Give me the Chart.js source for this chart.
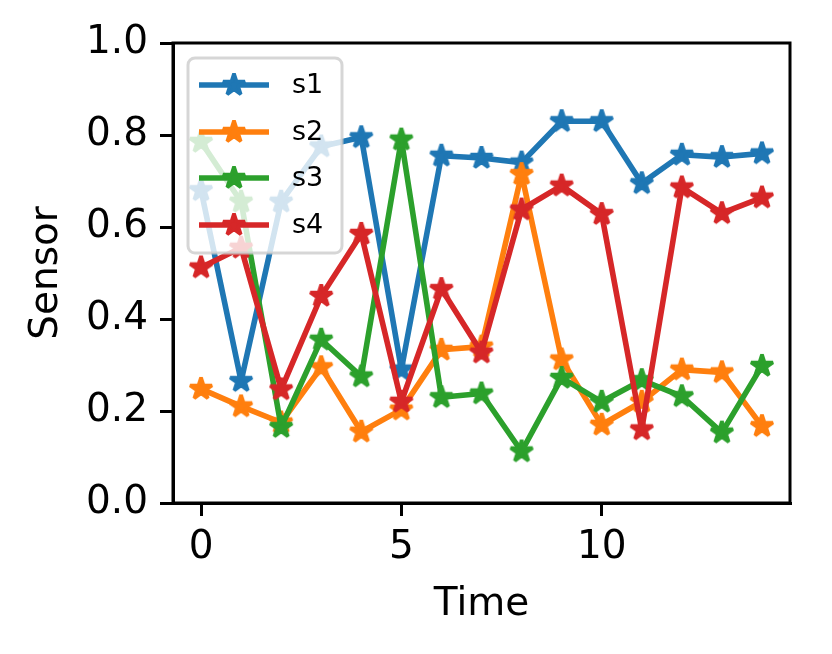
<!DOCTYPE html>
<html>
<head>
<meta charset="utf-8">
<script src="https://cdn.jsdelivr.net/npm/chart.js@4.4.1/dist/chart.umd.min.js"></script>
<style>
  html, body { margin: 0; padding: 0; background: #fff; }
  #chart { display: block; }
</style>
</head>
<body>
<canvas id="chart" width="832" height="654"></canvas>
<script>
// data
let time = [0, 1, 2, 3, 4, 5, 6, 7, 8, 9, 10, 11, 12, 13, 14];
let s1 = [0.68, 0.265, 0.655, 0.775, 0.795, 0.29, 0.755, 0.75, 0.74, 0.83, 0.83, 0.695, 0.757, 0.752, 0.76];
let s2 = [0.248, 0.21, 0.175, 0.295, 0.155, 0.203, 0.333, 0.34, 0.715, 0.312, 0.17, 0.22, 0.29, 0.284, 0.167];
let s3 = [0.785, 0.655, 0.165, 0.355, 0.275, 0.79, 0.23, 0.238, 0.112, 0.272, 0.22, 0.267, 0.232, 0.153, 0.298];
let s4 = [0.512, 0.555, 0.247, 0.45, 0.585, 0.22, 0.465, 0.327, 0.638, 0.69, 0.628, 0.16, 0.686, 0.63, 0.664];
let seriesNames = ["s1", "s2", "s3", "s4"];
let xTicks = [0, 5, 10];
let yTicks = [0, 0.2, 0.4, 0.6, 0.8, 1.0];

let colors = ["#1f77b4", "#ff7f0e", "#2ca02c", "#d62728"];
let FONT = "'DejaVu Sans', sans-serif";

function makeStar(color) {
  let c = document.createElement("canvas");
  c.width = 34;
  c.height = 34;
  let g = c.getContext("2d");
  let R = 11.5, r = R * 0.381966;
  g.beginPath();
  for (let i = 0; i < 10; i++) {
    let a = -Math.PI / 2 + i * Math.PI / 5;
    let rad = i % 2 === 0 ? R : r;
    let px = 17 + rad * Math.cos(a);
    let py = 17 + rad * Math.sin(a);
    if (i === 0) g.moveTo(px, py); else g.lineTo(px, py);
  }
  g.closePath();
  g.fillStyle = color;
  g.fill();
  g.lineWidth = 3.6;
  g.lineJoin = "bevel";
  g.strokeStyle = color;
  g.stroke();
  return c;
}

let stars = colors.map(makeStar);

function pts(vals) {
  let out = [];
  for (let i = 0; i < time.length; i++) out.push({ x: time[i], y: vals[i] });
  return out;
}

let allSeries = [s1, s2, s3, s4];
let datasets = [];
for (let i = 0; i < allSeries.length; i++) {
  datasets.push({
    label: seriesNames[i],
    data: pts(allSeries[i]),
    borderColor: colors[i],
    backgroundColor: colors[i],
    borderWidth: 5.6,
    pointStyle: stars[i],
    pointRadius: 12,
    tension: 0,
    fill: false,
    order: allSeries.length - i,
    borderJoinStyle: "round",
    borderCapStyle: "butt"
  });
}

// matplotlib style legend inside the axes + full frame
let mplLegend = {
  id: "mplLegend",
  afterDatasetsDraw(chart) {
    let ctx = chart.ctx;
    let x0 = 188, y0 = 58, w = 154, h = 195, rr = 7;
    ctx.save();
    ctx.beginPath();
    ctx.moveTo(x0 + rr, y0);
    ctx.arcTo(x0 + w, y0, x0 + w, y0 + h, rr);
    ctx.arcTo(x0 + w, y0 + h, x0, y0 + h, rr);
    ctx.arcTo(x0, y0 + h, x0, y0, rr);
    ctx.arcTo(x0, y0, x0 + w, y0, rr);
    ctx.closePath();
    ctx.fillStyle = "rgba(255,255,255,0.8)";
    ctx.fill();
    ctx.lineWidth = 3;
    ctx.strokeStyle = "rgba(204,204,204,0.8)";
    ctx.stroke();

    let rows = [85, 132, 178, 225];
    chart.data.datasets.forEach(function (ds, i) {
      let y = rows[i];
      ctx.beginPath();
      ctx.moveTo(199, y);
      ctx.lineTo(269, y);
      ctx.lineWidth = 5.6;
      ctx.strokeStyle = ds.borderColor;
      ctx.stroke();
      let st = ds.pointStyle;
      ctx.drawImage(st, 234 - st.width / 2, y - st.height / 2);
      ctx.fillStyle = "#000";
      ctx.font = "27px " + FONT;
      ctx.textBaseline = "middle";
      ctx.textAlign = "left";
      ctx.fillText(ds.label, 292, y + 1);
    });
    ctx.restore();
  },
  afterDraw(chart) {
    let a = chart.chartArea;
    let ctx = chart.ctx;
    ctx.save();
    ctx.lineWidth = 3;
    ctx.strokeStyle = "#000";
    ctx.strokeRect(a.left, a.top, a.right - a.left, a.bottom - a.top);
    ctx.restore();
  }
};

new Chart(document.getElementById("chart").getContext("2d"), {
  type: "line",
  data: { datasets: datasets },
  options: {
    responsive: false,
    animation: false,
    devicePixelRatio: 1,
    events: [],
    layout: { padding: { top: 43, right: 42, left: 0, bottom: 0 } },
    plugins: { legend: { display: false }, tooltip: { enabled: false } },
    scales: {
      x: {
        type: "linear",
        min: -0.7,
        max: 14.7,
        afterBuildTicks: function (s) { s.ticks = xTicks.map(function (v) { return { value: v }; }); },
        afterFit: function (s) { s.height = 151; },
        ticks: {
          color: "#000",
          font: { family: FONT, size: 39 },
          padding: 8,
          maxRotation: 0,
          callback: function (v) { return String(v); }
        },
        grid: { drawOnChartArea: false, drawTicks: true, tickLength: 13, color: "#000", lineWidth: 3 },
        border: { display: true, color: "#000", width: 3 },
        title: { display: true, text: "Time", color: "#000", font: { family: FONT, size: 39 }, padding: { top: 0, bottom: 26 } }
      },
      y: {
        type: "linear",
        min: 0,
        max: 1,
        afterBuildTicks: function (s) { s.ticks = yTicks.map(function (v) { return { value: v }; }); },
        afterFit: function (s) { s.width = 173; },
        ticks: {
          color: "#000",
          font: { family: FONT, size: 39 },
          padding: 12,
          callback: function (v) { return v.toFixed(1); }
        },
        grid: { drawOnChartArea: false, drawTicks: true, tickLength: 13, color: "#000", lineWidth: 3 },
        border: { display: true, color: "#000", width: 3 },
        title: { display: true, text: "Sensor", color: "#000", font: { family: FONT, size: 39 }, padding: { top: 23, bottom: 0 } }
      }
    }
  },
  plugins: [mplLegend]
});
</script>
</body>
</html>
